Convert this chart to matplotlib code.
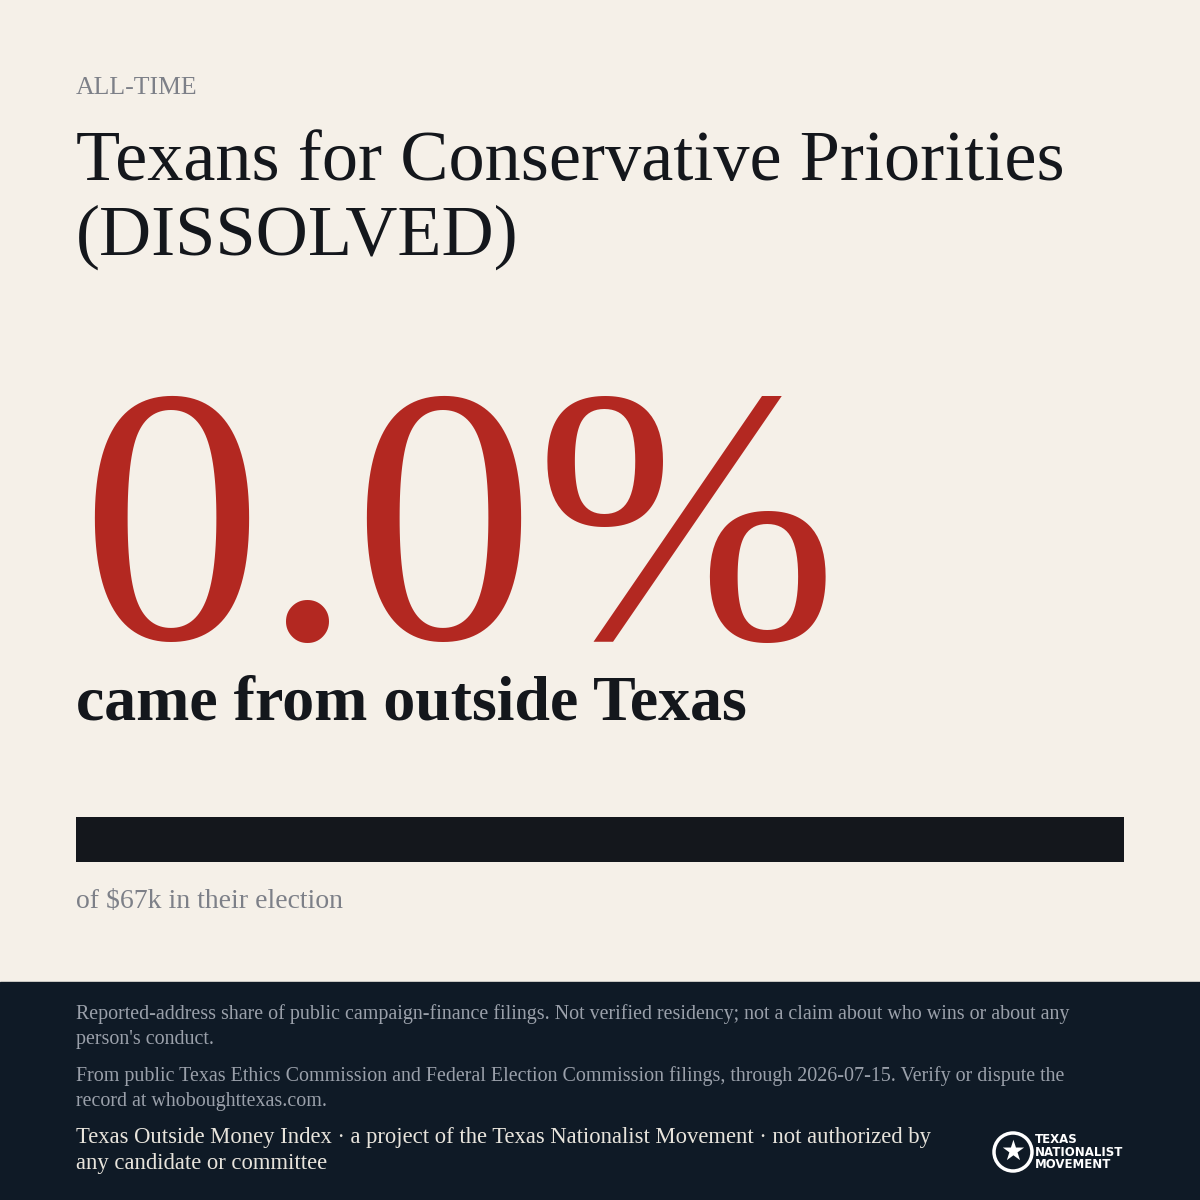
import matplotlib
matplotlib.use("Agg")
import matplotlib.pyplot as plt
from matplotlib.patches import Rectangle, Circle

eyebrow = "ALL-TIME"
title_lines = ["Texans for Conservative Priorities", "(DISSOLVED)"]
outside_share = [0.0]
inside_share = [100.0]
total_label = "$67k"
footer_notes = [
    "Reported-address share of public campaign-finance filings. Not verified residency; not a claim about who wins or about any\nperson's conduct.",
    "From public Texas Ethics Commission and Federal Election Commission filings, through 2026-07-15. Verify or dispute the\nrecord at whoboughttexas.com.",
]
credit = "Texas Outside Money Index · a project of the Texas Nationalist Movement · not authorized by\nany candidate or committee"

BG = "#f5f0e8"; INK = "#14171c"; RED = "#b32821"; NAVY = "#0f1a26"
SER = ["Liberation Serif", "DejaVu Serif"]

fig = plt.figure(figsize=(12, 12), dpi=100, facecolor=BG)
W = H = 1200.0
def fx(x): return x / W
def fy(y): return 1 - y / H

fig.text(fx(76), fy(88), eyebrow, family=SER, fontsize=18.5, color="#7d8088", va="center")
fig.text(fx(76), fy(180), title_lines[0], family=SER, fontsize=52, color=INK, va="baseline")
fig.text(fx(76), fy(255), title_lines[1], family=SER, fontsize=52, color=INK, va="baseline")
fig.text(fx(80), fy(638), f"{outside_share[0]:.1f}%", family=SER, fontsize=262, color=RED, va="baseline")
fig.text(fx(76), fy(720), "came from outside Texas", family=SER, fontsize=46, color=INK,
         weight="bold", va="baseline")

ax = fig.add_axes([fx(76), fy(862), fx(1124 - 76), (862 - 817) / H])
ax.barh([0], outside_share, color=RED, height=1)
ax.barh([0], inside_share, left=outside_share, color=INK, height=1)
ax.set_xlim(0, 100); ax.set_ylim(-0.5, 0.5); ax.axis("off")

fig.text(fx(76), fy(901), f"of {total_label} in their election", family=SER, fontsize=20,
         color="#7d8088", va="center")

fig.patches.append(Rectangle((0, 0), 1, fy(982), transform=fig.transFigure, color=NAVY, zorder=0))
fig.text(fx(76), fy(1004), footer_notes[0], family=SER, fontsize=14.4, color="#9aa0aa", va="top", linespacing=1.4)
fig.text(fx(76), fy(1066), footer_notes[1], family=SER, fontsize=14.4, color="#9aa0aa", va="top", linespacing=1.4)
fig.text(fx(76), fy(1127), credit, family=SER, fontsize=16.3, color="#e8e4dc", va="top", linespacing=1.3)

fig.patches.append(Circle((fx(1013), fy(1152)), 19 / W, transform=fig.transFigure,
                          fill=False, ec="white", lw=2.5, zorder=3))
fig.text(fx(1013), fy(1152), "★", fontsize=20, color="white", ha="center", va="center", family="DejaVu Sans")
fig.text(fx(1035), fy(1152), "TEXAS\nNATIONALIST\nMOVEMENT", fontsize=8.5, color="white", weight="bold",
         family="DejaVu Sans", va="center", linespacing=0.95)

fig.savefig("out.png", dpi=100, facecolor=BG)
